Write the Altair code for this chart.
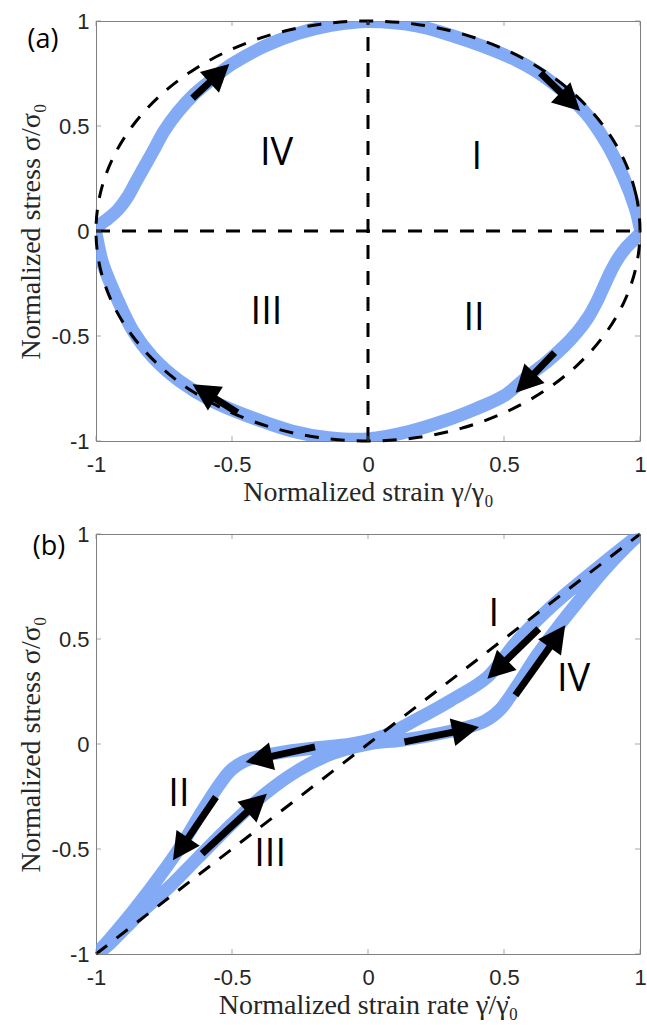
import math
import altair as alt
import pandas as pd

# ---------------- data ----------------
TICKS = [-1, -0.5, 0, 0.5, 1]

# (a) normalized stress vs normalized strain, ordered along the loop
A_X = [0.0, 0.183, 0.367, 0.55, 0.67, 0.794, 0.879, 0.94, 0.982, 1.0,
       1.0, 0.975, 0.945, 0.915, 0.89, 0.865, 0.84, 0.81, 0.77, 0.72, 0.66, 0.59, 0.5, 0.4, 0.29, 0.15, 0.0,
       -0.144, -0.28, -0.426, -0.572, -0.693, -0.79, -0.864, -0.924, -0.974, -0.997,
       -1.0, -0.985, -0.955, -0.92, -0.885, -0.855, -0.825, -0.79, -0.75, -0.7, -0.64, -0.575, -0.5, -0.38, -0.26, -0.14]
A_Y = [0.998, 0.976, 0.905, 0.81, 0.714, 0.571, 0.414, 0.254, 0.111, 0.016,
       -0.01, -0.045, -0.085, -0.14, -0.2, -0.27, -0.34, -0.41, -0.48, -0.55, -0.62, -0.69, -0.785, -0.845, -0.9, -0.955, -0.99,
       -0.984, -0.952, -0.889, -0.81, -0.714, -0.603, -0.476, -0.317, -0.159, -0.03,
       0.0, 0.03, 0.06, 0.1, 0.16, 0.23, 0.3, 0.38, 0.475, 0.565, 0.65, 0.72, 0.795, 0.88, 0.94, 0.978]

# dashed reference ellipse (unit circle) for (a)
CIRCLE_X = [1.0, 0.985, 0.94, 0.866, 0.766, 0.643, 0.5, 0.342, 0.174, 0.0,
            -0.174, -0.342, -0.5, -0.643, -0.766, -0.866, -0.94, -0.985, -1.0,
            -0.985, -0.94, -0.866, -0.766, -0.643, -0.5, -0.342, -0.174, 0.0,
            0.174, 0.342, 0.5, 0.643, 0.766, 0.866, 0.94, 0.985]
CIRCLE_Y = [0.0, 0.174, 0.342, 0.5, 0.643, 0.766, 0.866, 0.94, 0.985, 1.0,
            0.985, 0.94, 0.866, 0.766, 0.643, 0.5, 0.342, 0.174, 0.0,
            -0.174, -0.342, -0.5, -0.643, -0.766, -0.866, -0.94, -0.985, -1.0,
            -0.985, -0.94, -0.866, -0.766, -0.643, -0.5, -0.342, -0.174]
# dashed axes lines in (a)
CROSS_SEG = ["h", "h", "v", "v"]
CROSS_X = [-1, 1, 0, 0]
CROSS_Y = [0, 0, -1, 1]

ARROW_A_X0 = [-0.645, 0.634, 0.686, -0.48]
ARROW_A_Y0 = [0.633, 0.752, -0.579, -0.865]
ARROW_A_X1 = [-0.51, 0.78, 0.543, -0.645]
ARROW_A_Y1 = [0.795, 0.571, -0.77, -0.73]

LABEL_A_TEXT = ["I", "II", "III", "IV"]
LABEL_A_X = [0.40, 0.39, -0.373, -0.336]
LABEL_A_Y = [0.35, -0.42, -0.39, 0.367]

# (b) normalized stress vs normalized strain rate, ordered along the loop
B_X = [1.0, 1.0, 0.878, 0.743, 0.646, 0.548, 0.439, 0.305, 0.183, 0.061,
       -0.06, -0.2, -0.32, -0.43, -0.5, -0.55, -0.61, -0.68, -0.76, -0.86, -0.95,
       -1.0, -1.0, -0.949, -0.839, -0.731, -0.622, -0.5, -0.378, -0.256, -0.13,
       0.0, 0.122, 0.244, 0.35, 0.43, 0.49, 0.55, 0.62, 0.7, 0.78, 0.87, 0.95]
B_Y = [1.0, 1.0, 0.875, 0.732, 0.62, 0.49, 0.319, 0.208, 0.12, 0.04,
       0.0, -0.02, -0.04, -0.07, -0.12, -0.2, -0.32, -0.47, -0.62, -0.79, -0.93,
       -1.0, -1.0, -0.951, -0.808, -0.681, -0.538, -0.38, -0.237, -0.125, -0.045,
       0.0, 0.018, 0.045, 0.075, 0.11, 0.17, 0.28, 0.42, 0.56, 0.69, 0.83, 0.94]

DIAG_X = [-1, 1]
DIAG_Y = [-1, 1]

ARROW_B_X0 = [0.628, 0.542, 0.134, -0.195, -0.559, -0.61]
ARROW_B_Y0 = [0.549, 0.232, 0.01, -0.014, -0.252, -0.522]
ARROW_B_X1 = [0.439, 0.725, 0.408, -0.45, -0.717, -0.372]
ARROW_B_Y1 = [0.311, 0.565, 0.081, -0.086, -0.554, -0.237]

LABEL_B_TEXT = ["I", "IV", "II", "III"]
LABEL_B_X = [0.463, 0.756, -0.695, -0.36]
LABEL_B_Y = [0.613, 0.303, -0.244, -0.53]

PANEL_TAGS = ["(a)", "(b)"]
X_TITLES = ["Normalized strain \u03b3/\u03b3\u2080", "Normalized strain rate \u03b3\u0307/\u03b3\u0307\u2080"]
Y_TITLE = "Normalized stress \u03c3/\u03c3\u2080"

# ---------------- styling ----------------
W, H = 544, 420
SX, SY = W / 2.0, H / 2.0
BLUE = "#6d9cf3"
GREY = "#808080"
DARK = "#262626"
HEAD_LEN = 27.0
HEAD_PATH = "M0,0L0.52,1L-0.52,1Z"
HEAD_SIZE = (2 * HEAD_LEN) ** 2
DASH = [14, 12]
LABEL_EXPR = "replace(format(datum.value, '~g'), '\u2212', '-')"


def xenc(field, title):
    return alt.X(f"{field}:Q", title=title,
                 scale=alt.Scale(domain=[-1, 1], nice=False, zero=False),
                 axis=alt.Axis(values=TICKS, labelExpr=LABEL_EXPR, labelFlush=False))


def yenc(field):
    return alt.Y(f"{field}:Q", title=Y_TITLE,
                 scale=alt.Scale(domain=[-1, 1], nice=False, zero=False),
                 axis=alt.Axis(values=TICKS, labelExpr=LABEL_EXPR, labelFlush=False))


def arrow_frame(x0, y0, x1, y1):
    rows = []
    for a, b, c, d in zip(x0, y0, x1, y1):
        dxp = (c - a) * SX
        dyp = -(d - b) * SY
        L = math.hypot(dxp, dyp)
        ux, uy = dxp / L, dyp / L
        ang = math.degrees(math.atan2(ux, -uy)) % 360
        back = HEAD_LEN * 0.5
        rows.append(dict(x0=a, y0=b, xe=c - back * ux / SX, ye=d + back * uy / SY,
                         x1=c, y1=d, ang=ang))
    return pd.DataFrame(rows)


def panel(bx, by, dash_layers, ax0, ay0, ax1, ay1, lt, lx, ly, tag, tag_pos, xtitle):
    blue = pd.DataFrame({"x": bx, "y": by, "i": list(range(len(bx)))})
    layers = [
        alt.Chart(blue).mark_line(interpolate="cardinal-closed", strokeWidth=13, color=BLUE,
                                  opacity=0.85, strokeJoin="round", clip=True)
        .encode(x=xenc("x", xtitle), y=yenc("y"), order="i:Q")
    ]
    for df, interp_d, detail in dash_layers:
        enc = dict(x=xenc("x", xtitle), y=yenc("y"), order="i:Q")
        if detail:
            enc["detail"] = "seg:N"
        layers.append(alt.Chart(df).mark_line(interpolate=interp_d, strokeWidth=3,
                                              strokeDash=DASH, color="black")
                      .encode(**enc))
    arr = arrow_frame(ax0, ay0, ax1, ay1)
    layers.append(alt.Chart(arr).mark_rule(strokeWidth=7, color="black", strokeCap="butt")
                  .encode(x=xenc("x0", xtitle), x2="xe:Q", y=yenc("y0"), y2="ye:Q"))
    layers.append(alt.Chart(arr).mark_point(shape=HEAD_PATH, filled=True, size=HEAD_SIZE,
                                            color="black", opacity=1, strokeWidth=0)
                  .encode(x=xenc("x1", xtitle), y=yenc("y1"),
                          angle=alt.Angle("ang:Q", scale=None)))
    labels = pd.DataFrame({"t": lt, "x": lx, "y": ly})
    layers.append(alt.Chart(labels).mark_text(font="Open Sans", fontSize=38, color="black")
                  .encode(x=xenc("x", xtitle), y=yenc("y"), text="t:N"))
    tags = pd.DataFrame({"t": [tag]})
    layers.append(alt.Chart(tags).mark_text(font="Open Sans", fontSize=27, color="black",
                                            align="center", baseline="middle")
                  .encode(x=alt.value(tag_pos[0]), y=alt.value(tag_pos[1]), text="t:N"))
    tk = pd.DataFrame({"t": TICKS})
    tick_kw = dict(color=GREY, thickness=1, size=5)
    layers.append(alt.Chart(tk).mark_tick(orient="vertical", yOffset=2.5, **tick_kw)
                  .encode(x=xenc("t", xtitle), y=alt.value(0)))
    layers.append(alt.Chart(tk).mark_tick(orient="vertical", yOffset=-2.5, **tick_kw)
                  .encode(x=xenc("t", xtitle), y=alt.value(H)))
    layers.append(alt.Chart(tk).mark_tick(orient="horizontal", xOffset=2.5, **tick_kw)
                  .encode(y=yenc("t"), x=alt.value(0)))
    layers.append(alt.Chart(tk).mark_tick(orient="horizontal", xOffset=-2.5, **tick_kw)
                  .encode(y=yenc("t"), x=alt.value(W)))
    return alt.layer(*layers).properties(width=W, height=H)


circle_df = pd.DataFrame({"x": CIRCLE_X, "y": CIRCLE_Y, "i": list(range(len(CIRCLE_X)))})
cross_df = pd.DataFrame({"x": CROSS_X, "y": CROSS_Y, "seg": CROSS_SEG, "i": list(range(len(CROSS_X)))})
diag_df = pd.DataFrame({"x": DIAG_X, "y": DIAG_Y, "i": list(range(len(DIAG_X)))})

top = panel(A_X, A_Y,
            [(circle_df, "cardinal-closed", False), (cross_df, "linear", True)],
            ARROW_A_X0, ARROW_A_Y0, ARROW_A_X1, ARROW_A_Y1,
            LABEL_A_TEXT, LABEL_A_X, LABEL_A_Y, PANEL_TAGS[0], (-53, 19), X_TITLES[0])
bottom = panel(B_X, B_Y,
               [(diag_df, "linear", False)],
               ARROW_B_X0, ARROW_B_Y0, ARROW_B_X1, ARROW_B_Y1,
               LABEL_B_TEXT, LABEL_B_X, LABEL_B_Y, PANEL_TAGS[1], (-47, 13), X_TITLES[1])

chart = (
    alt.vconcat(top, bottom, spacing=15)
    .properties(padding={"left": 16, "top": 9, "right": 0, "bottom": 0}, background="white")
    .configure_view(stroke=GREY, strokeWidth=1)
    .configure_axis(labelFont="Liberation Sans", labelFontSize=22, labelColor=DARK,
                    titleFont="Liberation Serif", titleFontSize=28, titleFontWeight="normal",
                    titleColor=DARK, domain=False, ticks=False, tickSize=0, grid=False)
    .configure_axisX(labelPadding=13, titlePadding=3)
    .configure_axisY(labelPadding=7, titlePadding=6)
)

chart.save("out.html", embed_options={"renderer": "svg", "actions": False})
